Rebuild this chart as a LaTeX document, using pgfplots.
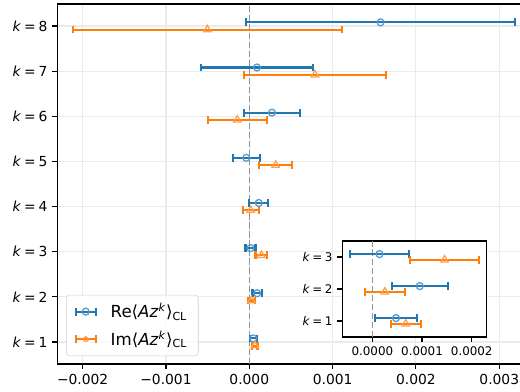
\documentclass[border=0pt]{standalone}
\usepackage{pgfplots}
\usepackage{pgfplotstable}
\pgfplotsset{compat=1.18}
\usepackage{fontspec}
\setmainfont{DejaVu Sans}
\definecolor{c0}{HTML}{1F77B4}
\definecolor{c1}{HTML}{FF7F0E}
\newcommand{\kl}[1]{\textit{k}\hspace{0.22em}=\hspace{0.22em}#1}
\pgfplotstableread{
k x e
1 0.0000477 0.0000423
2 0.0000954 0.0000564
3 0.0000145 0.0000600
4 0.0001140 0.0001140
5 -0.0000360 0.0001640
6 0.0002720 0.0003360
7 0.0000920 0.0006720
8 0.0015750 0.0016150
}\retab
\pgfplotstableread{
k x e
1 0.0000672 0.0000302
2 0.0000253 0.0000406
3 0.0001453 0.0000694
4 0.0000180 0.0000980
5 0.0003160 0.0001960
6 -0.0001440 0.0003520
7 0.0007880 0.0008520
8 -0.0005020 0.0016100
}\imtab
\pgfplotsset{
  ebre/.style={c0, only marks, mark=o, mark size=2.5bp,
    mark options={draw=c0!75, line width=0.9bp, fill=none, solid},
    error bars/.cd, x dir=both, x explicit, error mark=|,
    error bar style={line width=1.5bp, c0},
    error mark options={line width=1.6bp, mark size=2.8bp, c0}},
  ebim/.style={c1, only marks, mark=triangle, mark size=3.1bp,
    mark options={draw=c1!75, line width=0.9bp, fill=none, solid},
    error bars/.cd, x dir=both, x explicit, error mark=|,
    error bar style={line width=1.5bp, c1},
    error mark options={line width=1.6bp, mark size=2.8bp, c1}},
  common/.style={scale only axis, tick align=outside, tick pos=left,
    major tick length=3.5bp,
    every tick/.style={black, line width=0.8bp},
    axis line style={line width=0.8bp},
    scaled x ticks=false, scaled y ticks=false,
    /pgf/number format/assume math mode=true},
}
\begin{document}
\begin{tikzpicture}[x=1bp,y=1bp]
\begin{axis}[common,
  at={(0,0)}, anchor=south west,
  width=342.2bp, height=259.2bp,
  xmin=-0.002304, xmax=0.0034, ymin=0.513, ymax=8.487,
  xtick={-0.002,-0.001,0,0.001,0.002,0.003},
  xticklabels={−0.002,−0.001,0.000,0.001,0.002,0.003},
  ytick={1,2,3,4,5,6,7,8},
  yticklabels={\kl{1},\kl{2},\kl{3},\kl{4},\kl{5},\kl{6},\kl{7},\kl{8}},
  grid=major, major grid style={line width=0.8bp, color=black!8},
  font=\fontsize{10}{12}\selectfont,
  legend cell align=left,
  legend style={at={(0.0183,0.022)}, anchor=south west,
    rounded corners=2.5bp, draw=black!18, fill=white, fill opacity=0.8,
    text opacity=1, font=\fontsize{12}{14}\selectfont,
    inner xsep=6bp, inner ysep=4bp, row sep=4bp, column sep=8bp},
]
\addplot[forget plot, gray!85, line width=1bp, dash pattern=on 4.5bp off 2bp]
  coordinates {(0,0.513) (0,8.487)};
\addplot[
  legend image code/.code={
    \draw[c0, line width=1.5bp] (2bp,0bp) -- (16.4bp,0bp);
    \draw[c0, line width=1.6bp] (2bp,-2.8bp) -- (2bp,2.8bp) (16.4bp,-2.8bp) -- (16.4bp,2.8bp);
    \draw[c0!75, line width=0.9bp] (9.2bp,0bp) circle (2.5bp);
  }, ebre] table[x=x, y expr=\thisrow{k}+0.08, x error=e] {\retab};
\addlegendentry{Re⟨\textit{Az}\textsuperscript{\textit{k}}⟩\textsubscript{CL}}
\addplot[
  legend image code/.code={
    \draw[c1, line width=1.5bp] (2bp,0bp) -- (16.4bp,0bp);
    \draw[c1, line width=1.6bp] (2bp,-2.8bp) -- (2bp,2.8bp) (16.4bp,-2.8bp) -- (16.4bp,2.8bp);
    \draw[c1!75, line width=0.9bp] (9.2bp,3.1bp) -- (6.52bp,-1.55bp) -- (11.88bp,-1.55bp) -- cycle;
  }, ebim] table[x=x, y expr=\thisrow{k}-0.08, x error=e] {\imtab};
\addlegendentry{Im⟨\textit{Az}\textsuperscript{\textit{k}}⟩\textsubscript{CL}}
\end{axis}
\begin{axis}[common,
  at={(205.2bp,19.44bp)}, anchor=south west,
  width=103.5bp, height=69.1bp,
  xmin=-0.0000604, xmax=0.0002288, ymin=0.5, ymax=3.5,
  xtick={0,0.0001,0.0002},
  xticklabels={0.0000,0.0001,0.0002},
  ytick={1,2,3},
  yticklabels={\kl{1},\kl{2},\kl{3}},
  axis background/.style={fill=white},
  font=\fontsize{8.6}{10}\selectfont,
]
\addplot[gray!85, line width=1bp, dash pattern=on 4.5bp off 2bp]
  coordinates {(0,0.5) (0,3.5)};
\addplot[ebre] table[x=x, y expr=\thisrow{k}+0.09, x error=e] {\retab};
\addplot[ebim] table[x=x, y expr=\thisrow{k}-0.09, x error=e] {\imtab};
\end{axis}
\pgfresetboundingbox
\path[use as bounding box] (-41.26bp,-20.16bp) rectangle (333.14bp,262.08bp);
\end{tikzpicture}
\end{document}
